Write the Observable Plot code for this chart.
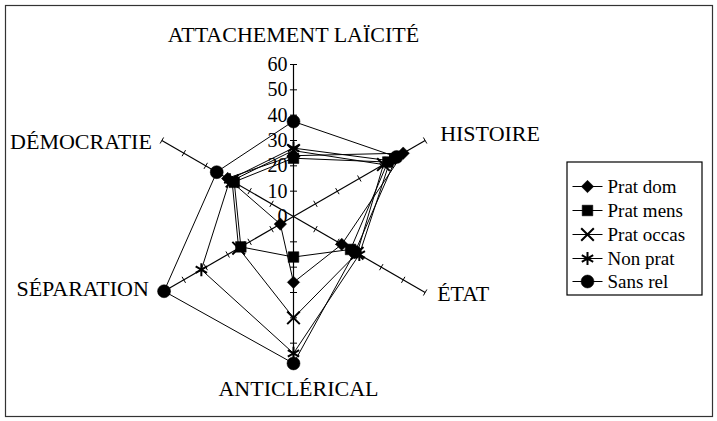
<!DOCTYPE html>
<html><head><meta charset="utf-8">
<script src="https://cdn.jsdelivr.net/npm/d3@7"></script>
<script src="https://cdn.jsdelivr.net/npm/@observablehq/plot@0.6"></script>
<style>
body{margin:0;background:#fff}
svg{display:block}
#chart svg, #chart svg text{font-family:"Liberation Serif","Times New Roman","DejaVu Serif",serif !important;}
</style>
</head><body><div id="chart"></div>
<script>
// ---- data ----
const axes = ["ATTACHEMENT LAÏCITÉ", "HISTOIRE", "ÉTAT", "ANTICLÉRICAL", "SÉPARATION", "DÉMOCRATIE"];
const series = ["Prat dom", "Prat mens", "Prat occas", "Non prat", "Sans rel"];
const pratDom   = [24, 50, 22, 26, 6, 30];
const pratMens  = [23, 43, 26, 16, 24, 27];
const pratOccas = [26, 41, 29, 40, 25, 28];
const nonPrat   = [27, 44, 30, 54, 42, 29];
const sansRel   = [37.5, 47, 28, 58, 59, 35];
const tickValues = [0, 10, 20, 30, 40, 50, 60];
const maxValue = 60;

// ---- layout ----
const W = 717, H = 421;
const cx = 293, cy = 216;
const PX = 152 / maxValue;          // pixels per unit
const angles = [90, 30, -30, -90, 210, 150];
const rad = a => a * Math.PI / 180;
const toX = px => (px - cx) / PX;
const toY = py => (cy - py) / PX;
const symbols = ["diamond2", "square", "times", "asterisk", "circle"];
const symR = [5.6, 6.0, 5.8, 6.2, 6.5];
const filled = [true, true, false, false, true];
const labelOffsets = [[0, -30, "middle"], [15, -7, "start"], [12, 1, "start"], [5, 20, "middle"], [-13, -3.5, "end"], [-10, 1, "end"]];
const serif = "Liberation Serif, Times New Roman, serif";

const allValues = [pratDom, pratMens, pratOccas, nonPrat, sansRel];
const rows = [];
series.forEach((s, si) => allValues[si].forEach((v, i) => rows.push({
  series: s, si, axis: axes[i], v,
  x: v * Math.cos(rad(angles[i])), y: v * Math.sin(rad(angles[i]))
})));

const axisEnds = axes.map((a, i) => ({axis: a, x: maxValue * Math.cos(rad(angles[i])), y: maxValue * Math.sin(rad(angles[i]))}));
const tickSegs = [];
const half = 3.5 / PX;
axes.forEach((a, i) => {
  const t = rad(angles[i]);
  tickValues.slice(1).forEach(v => {
    const px = v * Math.cos(t), py = v * Math.sin(t);
    const nx = -Math.sin(t), ny = Math.cos(t);
    tickSegs.push({x1: px - nx * half, y1: py - ny * half, x2: px + nx * half, y2: py + ny * half});
  });
});

// legend
const lgX1 = toX(567), lgX2 = toX(702), lgY1 = toY(162), lgY2 = toY(295);
const rowY = [186, 210, 234, 258, 281];

const marks = [
  Plot.frame({inset: 5, stroke: "#333", strokeWidth: 1.2}),
  Plot.link(axisEnds, {x1: 0, y1: 0, x2: "x", y2: "y", stroke: "black", strokeWidth: 1.2}),
  Plot.link(tickSegs, {x1: "x1", y1: "y1", x2: "x2", y2: "y2", stroke: "black", strokeWidth: 1}),
  Plot.text(tickValues, {x: 0, y: d => d, text: d => String(d), dx: -6, textAnchor: "end",
    fontSize: 20, fontFamily: serif, fill: "black"}),
  ...axes.map((a, i) => Plot.text([axisEnds[i]], {x: "x", y: "y", text: "axis",
    dx: labelOffsets[i][0], dy: labelOffsets[i][1], textAnchor: labelOffsets[i][2],
    fontSize: 22, fontFamily: serif, fill: "black"})),
  ...series.map((s, si) => Plot.line(rows.filter(r => r.si === si), {x: "x", y: "y", curve: "linear-closed",
    stroke: "black", strokeWidth: 1})),
  ...series.map((s, si) => Plot.dot(rows.filter(r => r.si === si), {x: "x", y: "y", symbol: () => symbols[si], r: symR[si],
    fill: filled[si] ? "black" : "none", stroke: "black", strokeWidth: filled[si] ? 0.5 : 2})),
  // legend
  Plot.rect([0], {x1: lgX1, x2: lgX2, y1: lgY1, y2: lgY2, fill: "white", stroke: "black", strokeWidth: 1.2}),
  Plot.link(series, {x1: toX(572), x2: toX(602), y1: (d, i) => toY(rowY[i]), y2: (d, i) => toY(rowY[i]), stroke: "black", strokeWidth: 1}),
  ...series.map((s, si) => Plot.dot([s], {x: toX(587), y: toY(rowY[si]), symbol: () => symbols[si], r: symR[si],
    fill: filled[si] ? "black" : "none", stroke: "black", strokeWidth: filled[si] ? 0.5 : 2})),
  Plot.text(series, {x: toX(607), y: (d, i) => toY(rowY[i]), text: d => d, textAnchor: "start",
    fontSize: 19, fontFamily: serif, fill: "black"})
];

const chart = Plot.plot({
  width: W, height: H,
  marginTop: 0, marginRight: 0, marginBottom: 0, marginLeft: 0,
  x: {domain: [toX(0), toX(W)], range: [0, W], axis: null},
  y: {domain: [toY(H), toY(0)], range: [H, 0], axis: null},
  symbol: {type: "identity"},
  style: {background: "white", overflow: "visible"},
  marks
});
document.getElementById("chart").appendChild(chart);
</script></body></html>
